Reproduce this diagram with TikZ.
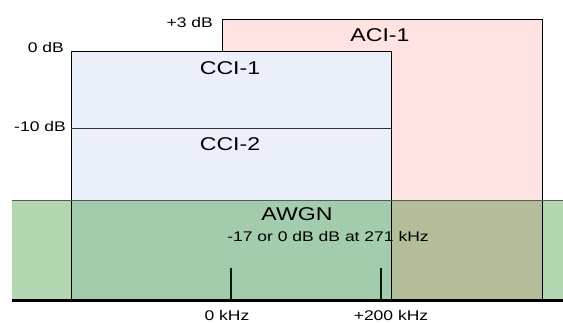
\documentclass[tikz,border=0pt]{standalone}
\usepackage{fontspec}
\setmainfont{Liberation Sans}[FakeStretch=1.25]
\begin{document}
\begin{tikzpicture}[x=1pt,y=-1pt,
  box/.style={draw=black,line width=0.8pt},
  big/.style={font=\fontsize{18.5}{20}\selectfont,inner sep=0pt},
  small/.style={font=\fontsize{14}{16}\selectfont,inner sep=0pt},
  tick/.style={line width=2.2pt,draw=black!90!green},
]
\definecolor{pinkf}{HTML}{FFE2E2}
\definecolor{bluef}{HTML}{EBEFFA}
\definecolor{greenl}{HTML}{B3D8B1}
\definecolor{greenm}{HTML}{A2CCAB}
\definecolor{greenb}{HTML}{B3BD9A}
\useasboundingbox (0,0) rectangle (563,323);
% fills
\fill[pinkf] (222,19) rectangle (542,200);
\fill[bluef] (71,51) rectangle (391,200);
\fill[greenl] (12,200) rectangle (563,301);
\fill[greenm] (71,200) rectangle (391,301);
\fill[greenb] (391,200) rectangle (542,301);
% outlines
\coordinate (aciTL) at (222,19);
\coordinate (aciTR) at (542,19);
\coordinate (aciBR) at (542,301);
\coordinate (aciL) at (222,51);
\draw[box] (aciL) -- (aciTL) -- (aciTR) -- (aciBR);
\coordinate (ccTL) at (71,51);
\coordinate (ccTR) at (391,51);
\coordinate (ccBL) at (71,301);
\coordinate (ccBR) at (391,301);
\draw[box] (ccBL) -- (ccTL) -- (ccTR) -- (ccBR);
\coordinate (divL) at (71,128);
\coordinate (divR) at (391,128);
\draw[box,draw=black!80] (divL) -- (divR);
\coordinate (gL) at (12,200);
\coordinate (gR) at (563,200);
\draw[line width=0.8pt,draw=black!65] (gL) -- (gR);
% axis
\coordinate (axL) at (12,301);
\coordinate (axR) at (563,301);
\draw[line width=3pt,draw=black] (axL) -- (axR);
% ticks
\coordinate (t0a) at (231,268);
\coordinate (t0b) at (231,301);
\coordinate (t2a) at (381,268);
\coordinate (t2b) at (381,301);
\draw[tick] (t0a) -- (t0b);
\draw[tick] (t2a) -- (t2b);
% labels
\node[big] (aci) at (380,35) {ACI-1};
\node[big] (cci1) at (230,68) {CCI-1};
\node[big] (cci2) at (230,144) {CCI-2};
\node[big] (awgn) at (297,214) {AWGN};
\node[small] (awgnt) at (328,236) {-17 or 0 dB dB at 271 kHz};
\node[small] (k0) at (227,315) {0 kHz};
\node[small] (k200) at (391,315) {+200 kHz};
\node[small,anchor=east] (db3) at (213,22) {+3 dB};
\node[small,anchor=east] (db0) at (64,47) {0 dB};
\node[small,anchor=east] (db10) at (66,126) {-10 dB};
\end{tikzpicture}
\end{document}
